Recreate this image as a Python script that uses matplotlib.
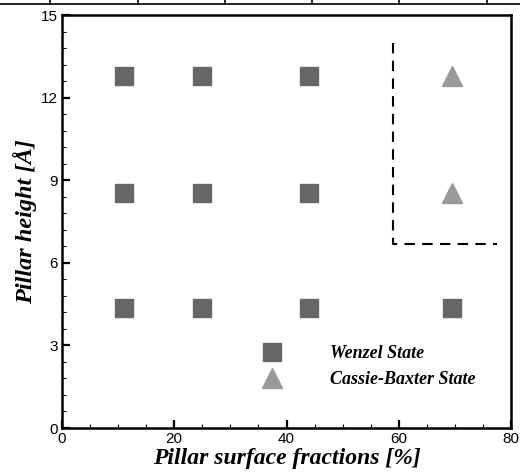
import matplotlib.pyplot as plt
import numpy as np
from matplotlib.lines import Line2D
from matplotlib.ticker import MultipleLocator

# data
wenzel_x = [11, 25, 44, 11, 25, 44, 11, 25, 44, 69.5]
wenzel_y = [12.77, 12.77, 12.77, 8.53, 8.53, 8.53, 4.35, 4.35, 4.35, 4.35]
cassie_x = [69.5, 69.5]
cassie_y = [12.77, 8.53]
boundary_x = [59, 59, 77.5]
boundary_y = [14.0, 6.7, 6.7]

fig = plt.figure(figsize=(5.2, 4.73), dpi=100)
ax = fig.add_axes([62/520, 1-428/473, 449/520, 413/473])

ax.plot(wenzel_x, wenzel_y, 's', color='#666666', markersize=13, linestyle='none',
        label='Wenzel State')
ax.plot(cassie_x, cassie_y, '^', color='#999999', markersize=14, linestyle='none',
        label='Cassie-Baxter State')
ax.plot(boundary_x, boundary_y, color='black', linewidth=1.5, dashes=(5, 3.5))

ax.set_xlim(0, 80)
ax.set_ylim(0, 15)
ax.xaxis.set_major_locator(MultipleLocator(20))
ax.xaxis.set_minor_locator(MultipleLocator(5))
ax.yaxis.set_major_locator(MultipleLocator(3))
ax.yaxis.set_minor_locator(MultipleLocator(0.6))
ax.tick_params(which='both', direction='in', labelsize=11, pad=3)
ax.tick_params(which='major', length=6, width=1.6)
ax.tick_params(which='minor', length=3, width=0.8)
for s in ax.spines.values():
    s.set_linewidth(1.8)
for t in ax.get_xticklabels() + ax.get_yticklabels():
    t.set_fontfamily('Liberation Sans')

lab = dict(family='Liberation Serif', style='italic', weight='bold')
ax.set_xlabel('Pillar surface fractions [%]', labelpad=1, size=17, **lab)
ax.set_ylabel('Pillar height [Å]', labelpad=3, size=17.5, **lab)

leg = ax.legend(loc='upper left', bbox_to_anchor=(0.408, 0.24), frameon=False,
                handlelength=1.2, handletextpad=2.6, labelspacing=0.5,
                prop=dict(family='Liberation Serif', style='italic', weight='bold', size=13))

# cut-off table border at the top of the picture
fig.add_artist(Line2D([0, 1], [1-4/473, 1-4/473], color='black', linewidth=1.2))
for px in [50, 138, 225, 312, 399, 487]:
    fig.add_artist(Line2D([px/520, px/520], [1, 1-4/473], color='black', linewidth=1.2))

fig.savefig('out.png', dpi=100)
